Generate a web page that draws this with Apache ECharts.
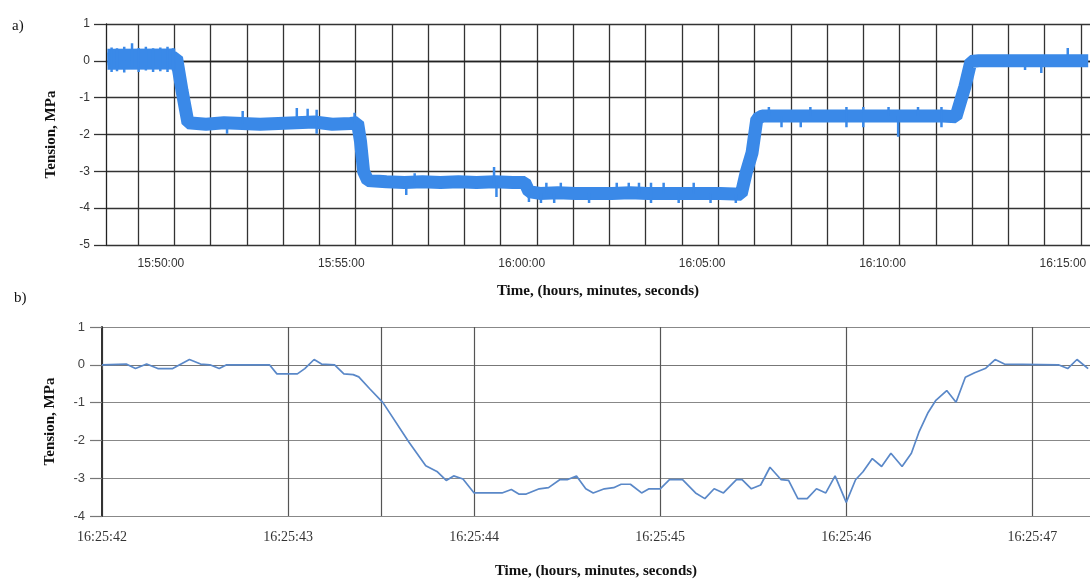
<!DOCTYPE html>
<html>
<head>
<meta charset="utf-8">
<title>Tension</title>
<script src="https://cdn.jsdelivr.net/npm/echarts@6/dist/echarts.min.js"></script>
<style>
  html, body { margin: 0; padding: 0; background: #fff; }
  #chart { width: 1090px; height: 580px; }
</style>
</head>
<body>
<div id="chart"></div>
<script>
// a) long record, time as seconds after aBase
const aBase = '15:50:00';
const aSec = [-89, -70, -50, -30, -10, 10, 26, 35, 45,
  75, 105, 135, 165, 195, 225, 255, 285, 315, 327, 332, 337, 344,
  375, 405, 435, 465, 495, 525, 555, 585, 605, 612,
  630, 660, 690, 720, 750, 780, 810, 840, 870, 900, 930, 965, 973, 983, 991,
  1000, 1030, 1060, 1090, 1120, 1150, 1180, 1210, 1240, 1270, 1300, 1322, 1337, 1347,
  1360, 1400, 1440, 1480, 1520, 1542];
const aVal = [0.05, 0.06, 0.04, 0.06, 0.05, 0.06, 0.08, -0.8, -1.68,
  -1.72, -1.68, -1.7, -1.72, -1.7, -1.68, -1.66, -1.72, -1.7, -1.68, -2.2, -3.0, -3.25,
  -3.28, -3.3, -3.28, -3.3, -3.28, -3.3, -3.28, -3.3, -3.3, -3.55,
  -3.6, -3.58, -3.6, -3.6, -3.6, -3.58, -3.6, -3.6, -3.6, -3.6, -3.6, -3.62, -3.05, -2.5, -1.58,
  -1.5, -1.5, -1.5, -1.5, -1.5, -1.5, -1.5, -1.5, -1.5, -1.5, -1.5, -1.52, -0.7, -0.02,
  0, 0, 0, 0, 0, 0];
// the first level is noisier: wider band over this span
const aWideSec = [-89, 24];
const aWideVal = [0.04, 0.05];
// noise excursions out of the core band (vertical strokes)
const aSpikeSec = [-82, -73, -61, -48, -37, -25, -13, -1, 11, 20,
  110, 136, 226, 244, 259, 322, 408, 422, 554, 558, 612, 632, 641, 654, 665, 712,
  758, 778, 795, 815, 836, 861, 886, 914, 956,
  1011, 1032, 1064, 1080, 1140, 1168, 1210, 1226, 1259, 1298, 1437, 1464, 1508];
const aSpikeFrom = [-0.3, -0.28, -0.32, -0.2, -0.3, -0.26, -0.3, -0.28, -0.3, -0.26,
  -1.7, -1.7, -1.7, -1.7, -1.98, -1.7, -3.3, -3.3, -3.3, -3.3, -3.5, -3.6, -3.6, -3.6, -3.6, -3.6,
  -3.6, -3.6, -3.6, -3.86, -3.6, -3.6, -3.6, -3.6, -3.6,
  -1.5, -1.5, -1.5, -1.5, -1.8, -1.8, -1.5, -1.5, -1.5, -1.8, 0, 0, 0];
const aSpikeTo = [0.36, 0.34, 0.38, 0.48, 0.35, 0.38, 0.34, 0.36, 0.38, 0.34,
  -1.98, -1.36, -1.28, -1.3, -1.33, -1.41, -3.64, -3.05, -2.88, -3.7, -3.83, -3.86, -3.31, -3.86, -3.31, -3.86,
  -3.31, -3.31, -3.31, -3.31, -3.31, -3.86, -3.31, -3.86, -3.86,
  -1.25, -1.8, -1.8, -1.25, -1.25, -1.25, -1.25, -2.06, -1.25, -1.25, -0.25, -0.33, 0.35];
const aTickLabels = ['15:50:00', '15:55:00', '16:00:00', '16:05:00', '16:10:00', '16:15:00'];

// b) short record, time as seconds after bBase
const bBase = '16:25:42';
const bSec = [0, 0.13, 0.18, 0.24, 0.30, 0.38, 0.47, 0.53, 0.58, 0.63,
  0.67, 0.90, 0.94, 1.05, 1.09, 1.14, 1.18, 1.25, 1.30, 1.35,
  1.38, 1.44, 1.51, 1.65, 1.74, 1.80, 1.85, 1.89, 1.94, 2.00,
  2.15, 2.20, 2.24, 2.28, 2.35, 2.40, 2.46, 2.50, 2.55, 2.60,
  2.64, 2.70, 2.75, 2.79, 2.84, 2.90, 2.94, 3.00, 3.05, 3.12,
  3.19, 3.24, 3.29, 3.34, 3.41, 3.44, 3.49, 3.54, 3.59, 3.65,
  3.69, 3.74, 3.79, 3.84, 3.89, 3.94, 4.00, 4.05, 4.09, 4.14,
  4.19, 4.24, 4.30, 4.35, 4.39, 4.44, 4.48, 4.54, 4.59, 4.64,
  4.69, 4.75, 4.80, 4.85, 5.14, 5.19, 5.24, 5.30];
const bVal = [0, 0.02, -0.1, 0.02, -0.1, -0.1, 0.14, 0.02, 0, -0.1,
  0, 0, -0.24, -0.24, -0.1, 0.14, 0.02, 0, -0.24, -0.26,
  -0.32, -0.64, -1.0, -2.05, -2.67, -2.82, -3.06, -2.94, -3.02, -3.39,
  -3.39, -3.3, -3.42, -3.42, -3.28, -3.25, -3.04, -3.04, -2.94, -3.28,
  -3.39, -3.28, -3.25, -3.16, -3.16, -3.39, -3.28, -3.28, -3.04, -3.04,
  -3.39, -3.54, -3.28, -3.39, -3.04, -3.04, -3.28, -3.18, -2.71, -3.04,
  -3.06, -3.54, -3.54, -3.28, -3.39, -2.94, -3.64, -3.04, -2.83, -2.48,
  -2.69, -2.34, -2.69, -2.34, -1.79, -1.26, -0.95, -0.68, -0.99, -0.33,
  -0.21, -0.09, 0.14, 0.02, 0, -0.1, 0.14, -0.1];
const bTickLabels = ['16:25:42', '16:25:43', '16:25:44', '16:25:45', '16:25:46', '16:25:47'];
const bExtraRule = '16:25:43.5';

function toSec(hms) {
  const p = hms.split(':').map(Number);
  return p[0] * 3600 + p[1] * 60 + p[2];
}
function toClock(v) {
  const s = Math.round(v);
  const pad = n => (n < 10 ? '0' : '') + n;
  return Math.floor(s / 3600) + ':' + pad(Math.floor(s / 60) % 60) + ':' + pad(s % 60);
}

const a0 = toSec(aBase);
const b0 = toSec(bBase);

// top panel vertical rules (not aligned with the labels in the original)
const aGridLines = [];
for (let s = -38; s < 1545; s += 60.3) aGridLines.push(a0 + s);

const spikeData = [];
aSpikeSec.forEach((s, i) => {
  spikeData.push([a0 + s, aSpikeFrom[i]], [a0 + s, aSpikeTo[i]], [a0 + s, '-']);
});

const serif = '"Liberation Serif", "Times New Roman", serif';
const sans = '"Liberation Sans", Arial, sans-serif';
const titleStyle = { fontFamily: serif, fontWeight: 'bold', fontSize: 15, color: '#111' };
const blue = '#3a89e8';

const chart = echarts.init(document.getElementById('chart'));
chart.setOption({
  animation: false,
  backgroundColor: '#fff',
  graphic: [
    { type: 'text', left: 12, top: 19, style: { text: 'a)', font: '15px ' + serif, fill: '#111' } },
    { type: 'text', left: 14, top: 291, style: { text: 'b)', font: '15px ' + serif, fill: '#111' } }
  ],
  grid: [
    { left: 106, right: -2, top: 24, height: 221 },
    { left: 102, right: -2, top: 327, height: 190 }
  ],
  xAxis: [
    {
      type: 'value', gridIndex: 0,
      min: a0 - 91.3, max: a0 + 1545,
      axisLine: { show: true, lineStyle: { color: '#222', width: 1.3 } },
      axisTick: { show: false, customValues: aGridLines },
      axisLabel: {
        customValues: aTickLabels.map(toSec), formatter: toClock,
        color: '#333', fontSize: 12, fontFamily: sans, margin: 13
      },
      splitLine: { show: true, lineStyle: { color: '#333', width: 1.3 } },
      name: 'Time, (hours, minutes, seconds)', nameLocation: 'middle', nameGap: 39,
      nameTextStyle: titleStyle
    },
    {
      type: 'value', gridIndex: 1,
      min: b0, max: b0 + 5.31,
      axisLine: { show: true, lineStyle: { color: '#777', width: 1.2 } },
      axisTick: {
        show: true, length: 5, lineStyle: { color: '#555' },
        customValues: bTickLabels.map(toSec).concat([toSec(bExtraRule)])
      },
      axisLabel: {
        customValues: bTickLabels.map(toSec), formatter: toClock,
        color: '#333', fontSize: 14, fontFamily: serif, margin: 14
      },
      splitLine: { show: true, lineStyle: { color: '#555', width: 1.2 } },
      name: 'Time, (hours, minutes, seconds)', nameLocation: 'middle', nameGap: 48,
      nameTextStyle: titleStyle
    }
  ],
  yAxis: [
    {
      type: 'value', gridIndex: 0, min: -5, max: 1, interval: 1,
      axisLine: { show: true, lineStyle: { color: '#222', width: 1.3 } },
      axisTick: { show: true, length: 12, lineStyle: { color: '#333', width: 1.3 } },
      axisLabel: { color: '#333', fontSize: 12, fontFamily: sans, margin: 16 },
      splitLine: { show: true, lineStyle: { color: '#333', width: 1.3 } },
      name: 'Tension, MPa', nameLocation: 'middle', nameGap: 47,
      nameTextStyle: titleStyle
    },
    {
      type: 'value', gridIndex: 1, min: -4, max: 1, interval: 1,
      axisLine: { show: true, lineStyle: { color: '#333', width: 2 } },
      axisTick: { show: true, length: 12, lineStyle: { color: '#777', width: 1.2 } },
      axisLabel: { color: '#444', fontSize: 13, fontFamily: sans, margin: 17 },
      splitLine: { show: true, lineStyle: { color: '#888', width: 1.2 } },
      name: 'Tension, MPa', nameLocation: 'middle', nameGap: 44,
      nameTextStyle: titleStyle
    }
  ],
  series: [
    {
      type: 'line', xAxisIndex: 0, yAxisIndex: 0, showSymbol: false,
      data: aSec.map((s, i) => [a0 + s, aVal[i]]),
      lineStyle: { color: blue, width: 13 }
    },
    {
      type: 'line', xAxisIndex: 0, yAxisIndex: 0, showSymbol: false,
      data: aWideSec.map((s, i) => [a0 + s, aWideVal[i]]),
      lineStyle: { color: blue, width: 21 }
    },
    {
      type: 'line', xAxisIndex: 0, yAxisIndex: 0, showSymbol: false,
      data: spikeData,
      lineStyle: { color: blue, width: 2.5 }
    },
    {
      type: 'line', xAxisIndex: 1, yAxisIndex: 1, showSymbol: false,
      data: bSec.map((s, i) => [b0 + s, bVal[i]]),
      lineStyle: { color: '#5a88c8', width: 1.7 }
    }
  ]
});
</script>
</body>
</html>
